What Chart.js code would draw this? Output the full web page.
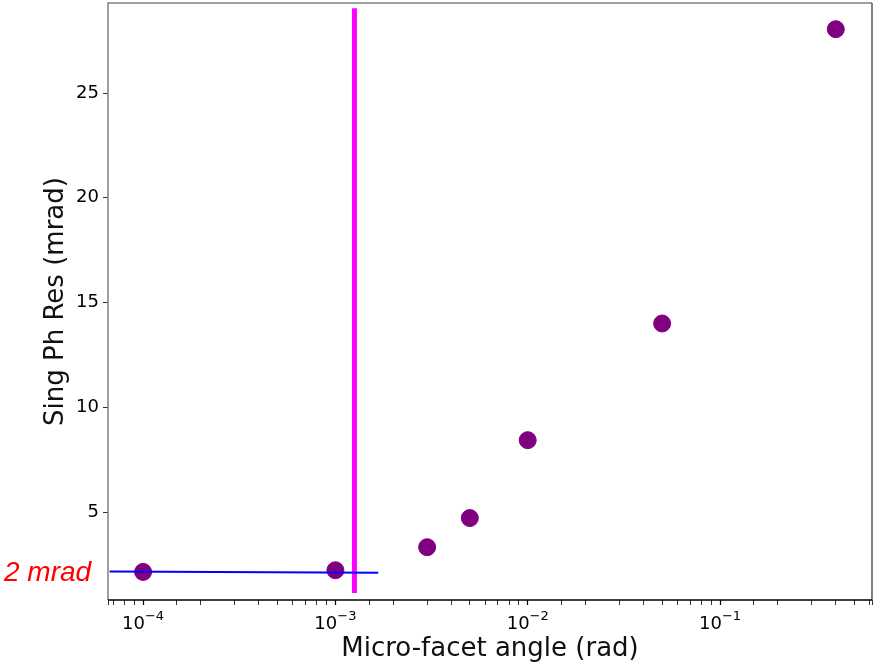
<!DOCTYPE html>
<html>
<head>
<meta charset="utf-8">
<script src="https://cdn.jsdelivr.net/npm/chart.js@4"></script>
<style>
  html, body { margin: 0; padding: 0; background: #fff; }
  #wrap { width: 875px; height: 665px; }
</style>
</head>
<body>
<div id="wrap"><canvas id="myChart" width="875" height="665"></canvas></div>
<script>
// measured points (micro-facet angle in rad, single photon resolution in mrad)
const facetAngles = [1e-4, 1e-3, 3e-3, 5e-3, 1e-2, 5e-2, 0.4];
const singPhRes = [2.14, 2.22, 3.32, 4.71, 8.43, 14.0, 28.05];

// magenta vertical marker
const markerX = [1.256e-3, 1.256e-3];
const markerY = [1.13, 29.05];

// blue reference line at ~2 mrad
const refX = [6.7e-5, 1.67e-3];
const refY = [2.16, 2.1];

const yTicks = [5, 10, 15, 20, 25];
const xMajor = [1e-4, 1e-3, 1e-2, 1e-1];

const toXY = (xs, ys) => xs.map((x, i) => ({x: x, y: ys[i]}));

function isMajor(v) {
    return xMajor.some(m => Math.abs(v / m - 1) < 1e-6);
}

// spines, 10^n tick labels with real superscripts, red "2 mrad" label
const extras = {
    id: 'extras',
    afterDraw(chart) {
        const {ctx, chartArea: a} = chart;
        const xs = chart.scales.x;
        ctx.save();
        ctx.lineWidth = 1.5;
        ctx.strokeStyle = '#808080';
        ctx.beginPath();
        ctx.moveTo(a.left, a.bottom); ctx.lineTo(a.left, a.top); ctx.lineTo(a.right, a.top);
        ctx.stroke();
        ctx.strokeStyle = '#555';
        ctx.beginPath();
        ctx.moveTo(a.right, a.top); ctx.lineTo(a.right, a.bottom);
        ctx.stroke();
        ctx.strokeStyle = '#000';
        ctx.beginPath();
        ctx.moveTo(a.left, a.bottom); ctx.lineTo(a.right, a.bottom);
        ctx.stroke();

        // x tick labels
        ctx.fillStyle = '#000';
        ctx.textBaseline = 'alphabetic';
        ctx.textAlign = 'left';
        xMajor.forEach(v => {
            const px = xs.getPixelForValue(v);
            const base = '10';
            const exp = '\u2212' + String(-Math.round(Math.log10(v)));
            ctx.font = '18px "DejaVu Sans"';
            const wb = ctx.measureText(base).width;
            ctx.font = '13px "DejaVu Sans"';
            const we = ctx.measureText(exp).width;
            const x0 = px - (wb + we) / 2;
            ctx.font = '18px "DejaVu Sans"';
            ctx.fillText(base, x0, a.bottom + 29);
            ctx.font = '13px "DejaVu Sans"';
            ctx.fillText(exp, x0 + wb, a.bottom + 20);
        });

        ctx.fillStyle = '#ff0000';
        ctx.font = 'italic 28px "Liberation Sans", Arial, sans-serif';
        ctx.textAlign = 'left';
        ctx.textBaseline = 'middle';
        ctx.fillText('2 mrad', 4, chart.scales.y.getPixelForValue(2.1));
        ctx.restore();
    }
};

const ctx = document.getElementById('myChart').getContext('2d');
const myChart = new Chart(ctx, {
    type: 'scatter',
    data: {
        datasets: [
            {
                label: 'ref',
                data: toXY(refX, refY),
                showLine: true,
                borderColor: '#0000ff',
                borderWidth: 2,
                pointRadius: 0,
                order: 0
            },
            {
                label: 'marker',
                data: toXY(markerX, markerY),
                showLine: true,
                borderColor: '#ff00ff',
                borderWidth: 5,
                pointRadius: 0,
                order: 1
            },
            {
                label: 'Sing Ph Res',
                data: toXY(facetAngles, singPhRes),
                backgroundColor: '#800080',
                borderColor: '#800080',
                pointRadius: 8.5,
                order: 2
            }
        ]
    },
    options: {
        responsive: false,
        animation: false,
        layout: { autoPadding: false, padding: { left: 41, right: 3, top: 3, bottom: 0 } },
        plugins: {
            legend: { display: false },
            tooltip: { enabled: false }
        },
        scales: {
            x: {
                type: 'logarithmic',
                min: 6.57e-5,
                max: 0.617,
                afterFit: (s) => { s.height = 65; s.paddingLeft = 0; s.paddingRight = 0; },
                border: { display: false },
                grid: {
                    drawOnChartArea: false,
                    drawTicks: true,
                    tickLength: 5,
                    tickColor: '#000',
                    tickWidth: (c) => isMajor(c.tick.value) ? 1.2 : 0.8
                },
                ticks: {
                    autoSkip: false,
                    maxRotation: 0,
                    padding: 6,
                    font: { family: '"DejaVu Sans"', size: 18 },
                    callback: () => ''   // labels drawn by the extras plugin
                },
                title: {
                    display: true,
                    text: 'Micro-facet angle (rad)',
                    color: '#111',
                    font: { family: '"DejaVu Sans"', size: 26 },
                    padding: { top: 0, bottom: 0 }
                }
            },
            y: {
                min: 0.8,
                max: 29.3,
                afterFit: (s) => { s.width = 67; s.paddingTop = 0; s.paddingBottom = 0; },
                afterBuildTicks: (s) => { s.ticks = yTicks.map(v => ({value: v})); },
                border: { display: false },
                grid: {
                    drawOnChartArea: false,
                    drawTicks: true,
                    tickLength: 5,
                    tickColor: '#333'
                },
                ticks: {
                    padding: 4,
                    color: '#000',
                    font: { family: '"DejaVu Sans"', size: 18 }
                },
                title: {
                    display: true,
                    text: 'Sing Ph Res (mrad)',
                    color: '#111',
                    font: { family: '"DejaVu Sans"', size: 26 },
                    padding: { top: 0, bottom: 4 }
                }
            }
        }
    },
    plugins: [extras]
});
</script>
</body>
</html>
